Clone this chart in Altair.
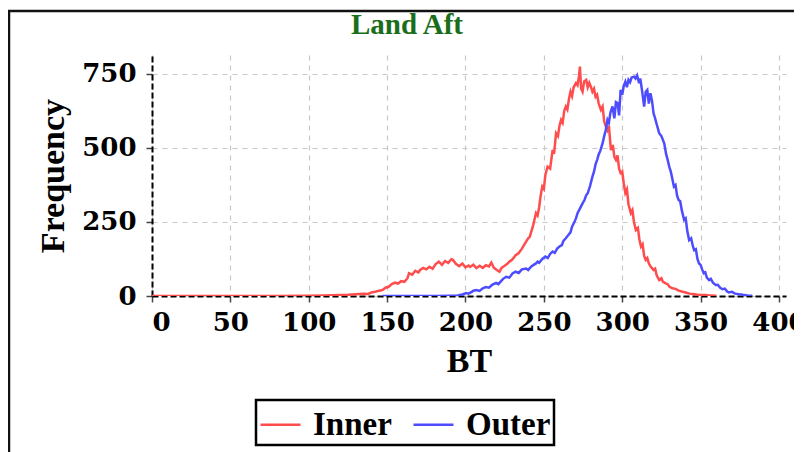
import altair as alt
import pandas as pd

# ---- data ----
inner_bt = [0, 20, 40, 60, 80, 100, 110, 120, 125, 130, 135, 138, 140, 143, 145, 147, 149, 151, 153, 155,
            157, 159, 161, 163, 164, 166, 168, 170, 171, 173, 175, 177, 179, 181, 183, 185, 187, 189, 191, 192,
            194, 196, 198, 200, 202, 203, 205, 207, 209, 211, 213, 215, 216.5, 218, 220, 221.7, 223, 225, 227, 228,
            230, 232, 234, 236, 238, 240, 241, 243, 245, 246, 247, 248, 249, 250, 251, 252.4, 254, 255.6, 256.5, 257.8,
            259, 260, 261, 262, 263, 264, 265, 266, 267, 268, 269, 270.5, 271.5, 272.5, 273, 273.8, 274.7, 275.7, 277, 278,
            279, 280, 281, 282, 283, 284, 285, 286.4, 287.5, 288.5, 289.6, 290.5, 291.5, 292.8, 294, 295, 296, 297, 298, 299,
            300, 301, 302, 303, 304, 305.5, 306.5, 307.5, 308.7, 310, 311, 312, 313, 314, 315, 316, 317, 318, 320, 321,
            322, 323.6, 325, 326, 327.8, 329, 330, 332, 334, 336, 338, 341, 343, 345, 348, 350, 353, 356, 360]
inner_freq = [0, 0, 0, 0, 0, 1, 2, 3, 4, 6, 8, 7, 12, 15, 18, 20, 28, 31, 40, 45,
              42, 50, 48, 60, 77, 72, 85, 80, 88, 95, 90, 99, 92, 108, 116, 105, 118, 112, 124, 122,
              108, 101, 110, 97, 103, 98, 106, 94, 102, 95, 104, 100, 113, 96, 88, 82, 95, 102, 110, 116,
              124, 138, 145, 160, 178, 195, 200, 235, 280, 272, 300, 340, 370, 362, 410, 437, 430, 493, 480, 550,
              540, 575, 595, 585, 625, 640, 630, 665, 690, 675, 705, 719, 712, 745, 775, 700, 690, 725, 730, 705,
              720, 707, 690, 700, 673, 680, 650, 629, 640, 590, 572, 560, 575, 493, 510, 470, 460, 475, 430, 415,
              420, 380, 348, 360, 310, 280, 290, 250, 223, 230, 190, 167, 175, 135, 122, 128, 110, 100, 88, 92,
              70, 54, 60, 48, 43, 40, 32, 26, 24, 18, 15, 11, 8, 7, 4, 3, 3, 2, 1]

outer_bt = [147, 150, 160, 170, 180, 190, 195, 198, 200.4, 202, 204, 205, 207, 209, 211, 213, 215, 217, 219.5, 221,
            223, 224, 226, 228, 230, 232, 234, 236, 238.7, 240, 242, 243.5, 245, 246, 247, 249, 251, 252.5, 254, 255.6,
            257, 258.5, 260, 261.5, 262.5, 264, 265.5, 267, 268, 269.5, 270.5, 271.5, 273, 274.7, 276, 277, 278, 279.5, 281, 282,
            283, 284, 285, 286, 287.5, 288.5, 289.5, 290.6, 291.5, 292.5, 293.8, 295, 296, 297, 298, 299, 300, 301, 302, 303,
            304, 305, 306, 307.6, 308.5, 309.5, 310.8, 311.5, 312.5, 313, 314, 315, 316, 317, 318, 319, 320, 321, 322, 323.6,
            325, 326.8, 328, 329, 330, 331, 332, 333, 334, 335, 336, 337, 338, 339.5, 340.5, 341.5, 342.7, 344, 345, 345.9,
            347, 348, 349, 350, 351, 352, 353, 354, 355.4, 356.5, 358, 359.6, 361, 362.5, 364, 365.5, 367, 368, 370, 372,
            374.5, 376, 378, 380, 383]
outer_freq = [0, 0, 0, 0, 0, 1, 2, 5, 10, 8, 14, 18, 20, 17, 26, 30, 28, 38, 44, 40,
              52, 58, 65, 62, 76, 82, 78, 90, 93, 88, 100, 105, 110, 116, 112, 125, 133, 128, 142, 150,
              146, 160, 167, 172, 186, 195, 205, 215, 234, 250, 262, 280, 295, 313, 325, 340, 347, 372, 403, 420,
              445, 460, 478, 490, 516, 540, 560, 595, 585, 620, 640, 600, 655, 652, 610, 696, 680, 710, 724, 705,
              730, 722, 738, 741, 735, 745, 719, 735, 700, 680, 640, 690, 696, 650, 685, 660, 617, 600, 580, 550,
              540, 516, 480, 460, 437, 420, 395, 370, 375, 340, 324, 320, 290, 257, 262, 220, 189, 195, 170, 155,
              158, 125, 110, 105, 90, 77, 80, 62, 54, 58, 44, 37, 38, 28, 23, 25, 15, 12, 14, 8,
              6, 5, 3, 2, 1]

series_names = ["Inner", "Outer"]
series_colors = ["#ff4d4d", "#4d4dff"]
x_ticks = [0, 50, 100, 150, 200, 250, 300, 350, 400]
y_ticks = [0, 250, 500, 750]
chart_title = ["Land Aft"]

df = pd.concat([
    pd.DataFrame({"BT": inner_bt, "Frequency": inner_freq, "series": "Inner"}),
    pd.DataFrame({"BT": outer_bt, "Frequency": outer_freq, "series": "Outer"}),
], ignore_index=True)

PW, PH = 634, 241
serif_lbl = "DejaVu Serif"
serif_ttl = "Liberation Serif"

lines = alt.Chart(df).mark_line(strokeWidth=2.5, clip=True).encode(
    x=alt.X("BT:Q",
            scale=alt.Scale(domain=[0, 404.5], nice=False, zero=False),
            axis=alt.Axis(values=x_ticks, title="BT", titleX=PW / 2, titleY=75.7,
                          titleBaseline="alphabetic", titleAlign="center",
                          labelPadding=7)),
    y=alt.Y("Frequency:Q",
            scale=alt.Scale(domain=[0, 814], nice=False),
            axis=alt.Axis(values=y_ticks, title="Frequency", titleX=-89, titleY=PH / 2,
                          titleAngle=270, titleBaseline="alphabetic", titleAlign="center",
                          labelPadding=10)),
    color=alt.Color("series:N",
                    scale=alt.Scale(domain=series_names, range=series_colors),
                    title=None,
                    legend=alt.Legend(orient="none", legendX=104, legendY=345,
                                      direction="horizontal", symbolType="stroke",
                                      symbolSize=1600, symbolStrokeWidth=2.5,
                                      labelFont=serif_ttl, labelFontWeight="bold",
                                      labelFontSize=33, labelColor="black",
                                      strokeColor="black", padding=3,
                                      labelOffset=11, columnPadding=16)),
)

title_text = alt.Chart(pd.DataFrame({"t": chart_title})).mark_text(
    font=serif_ttl, fontWeight="bold", fontSize=29, color="#1a6e1a",
    align="center", baseline="alphabetic", clip=False
).encode(text="t:N", x=alt.value(255), y=alt.value(-20.7))

frame = alt.Chart(pd.DataFrame({"k": [0]})).mark_rect(
    filled=False, stroke="#111111", strokeWidth=2.5, clip=False
).encode(
    x=alt.value(-143), x2=alt.value(PW + 200),
    y=alt.value(-44), y2=alt.value(PH + 300),
)

chart = alt.layer(lines, title_text, frame).properties(
    width=PW, height=PH,
    padding={"left": 144, "top": 47, "right": 8, "bottom": 166},
    autosize=alt.AutoSizeParams(type="none"),
).configure_axis(
    labelFont=serif_lbl, labelFontWeight="bold", labelFontSize=26, labelColor="black",
    titleFont=serif_ttl, titleFontWeight="bold", titleFontSize=34, titleColor="black",
    grid=True, gridColor="#c8c8c8", gridDash=[5, 5], gridWidth=1.2,
    domainColor="black", domainDash=[6, 3], domainWidth=2,
    tickColor="#444444", tickSize=6, tickWidth=1.5,
).configure_legend(
    strokeWidth=2.5
).configure_view(
    stroke=None
)

chart.save("out.html", embed_options={"renderer": "svg", "actions": False})
